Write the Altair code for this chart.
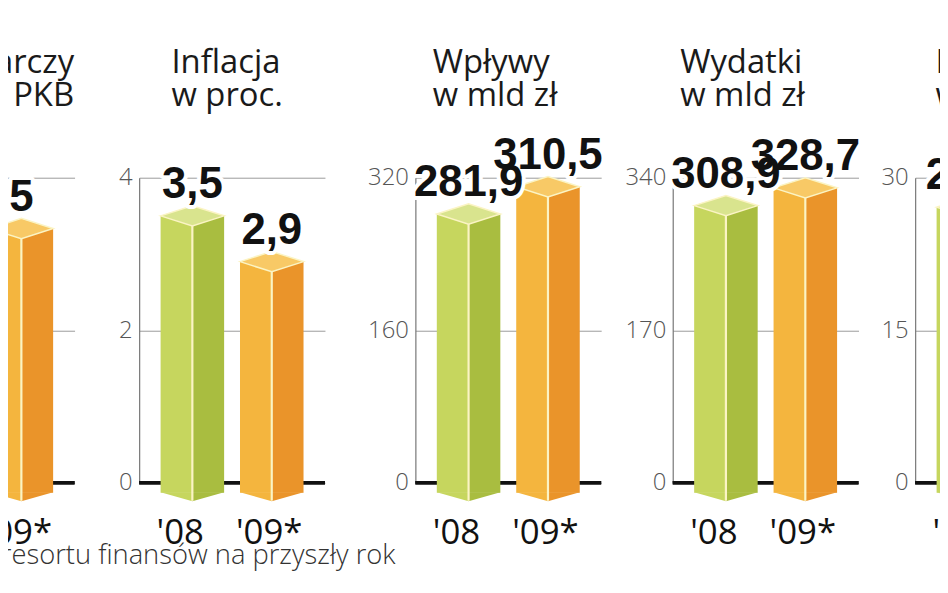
import altair as alt
import pandas as pd

# ---------------- data ----------------
years = ["'08", "'09*"]
titles = [
    ["Wzrost gospodarczy", "w proc. PKB"],
    ["Inflacja", "w proc."],
    ["Wpływy", "w mld zł"],
    ["Wydatki", "w mld zł"],
    ["Deficyt", "w mld zł"],
]
vals_08 = [5.5, 3.5, 281.9, 308.9, 27.1]
vals_09 = [5.0, 2.9, 310.5, 328.7, 18.2]
axis_max = [6, 4, 320, 340, 30]
footnote = "* prognoza resortu finansów na przyszły rok"

# ---------------- style ----------------
KEYS = ["08L", "08R", "08T", "09L", "09R", "09T"]
COLS = ["#c6d65e", "#a9bd40", "#d9e48e", "#f4b53e", "#ea942a", "#f8c966"]
CREAM = "#fbf4c4"
TOP = "M -1 0 L 0 -0.32 L 1 0 L 0 0.32 Z"
BOT_L = "M -1 0.3 L 0 0.3 L 0 0.58 Z"
BOT_R = "M 0 0.3 L 1 0.3 L 0 0.58 Z"
SIZE = 4096
W, H = 187, 307
RIGHT_EXT = 18
TICK_EXT = [200, 47, 73, 54, 39]
TITLE_X = [186, 32, 17, 7, 20]
TITLE_ALIGN = ["right", "left", "left", "left", "left"]


def fmt(v):
    return str(int(v)) if float(v).is_integer() else f"{v:.1f}".replace(".", ",")


cscale = alt.Scale(domain=KEYS, range=COLS)


def panel(i):
    vmax = axis_max[i]
    vals = [vals_08[i], vals_09[i]]
    pref = ["08", "09"]
    faces = pd.DataFrame(
        [{"yr": y, "face": f, "v": v, "k": p + f, "z0": 0}
         for y, v, p in zip(years, vals, pref) for f in ["L", "R"]]
    )
    tops = pd.DataFrame(
        [{"yr": y, "v": v, "z0": 0, "k": p + "T", "lab": fmt(v)}
         for y, v, p in zip(years, vals, pref)]
    )
    xscale = alt.Scale(domain=years, paddingInner=0.2, paddingOuter=0.27)
    yscale = alt.Scale(domain=[0, vmax], nice=False, zero=True)
    xaxis = alt.Axis(domain=False, ticks=False, grid=False,
                     labelAlign="left", labelOffset=-36,
                     labelPadding=33, labelFont="Open Sans", labelFontSize=35,
                     labelColor="#111111", labelAngle=0,
                     title=".", titleX=W + RIGHT_EXT, titleY=0, titleAlign="right",
                     titleBaseline="top", titleFontSize=1, titleOpacity=0)
    yaxis = alt.Axis(values=[0, vmax // 2, vmax], format="d", grid=True,
                     gridColor="#9a9a9a", gridWidth=1,
                     domainColor="#777777", domainWidth=1.2,
                     tickSize=TICK_EXT[i], tickOpacity=0,
                     labelPadding=7 - TICK_EXT[i],
                     labelFont="Open Sans", labelFontSize=24, labelFontWeight=300,
                     labelColor="#555555", labelBaseline="middle",
                     title=titles[i], titleX=TITLE_X[i], titleY=-106, titleAngle=0,
                     titleAlign=TITLE_ALIGN[i], titleBaseline="alphabetic",
                     titleFont="Open Sans", titleFontSize=33, titleFontWeight="normal",
                     titleColor="#1a1a1a", titleLineHeight=33)
    X = alt.X("yr:N", scale=xscale, axis=xaxis)
    Y = alt.Y("v:Q", scale=yscale, axis=yaxis, stack=None)
    Y0 = alt.Y("z0:Q", scale=yscale, axis=yaxis, stack=None)
    C = alt.Color("k:N", scale=cscale, legend=None)

    base_rule = alt.Chart(tops).mark_rule(color="#111111", strokeWidth=3.5).encode(y=Y0)
    bars = alt.Chart(faces).mark_bar(y2Offset=10).encode(
        x=X,
        xOffset=alt.XOffset("face:N", scale=alt.Scale(domain=["L", "R"], paddingInner=0, paddingOuter=0)),
        y=Y, y2=alt.Y2("z0:Q"), color=C)
    bottom = alt.Chart(faces).mark_point(filled=True, size=SIZE, opacity=1, strokeWidth=0).encode(
        x=X, y=Y0,
        shape=alt.Shape("face:N", scale=alt.Scale(domain=["L", "R"], range=[BOT_L, BOT_R]), legend=None),
        color=C)
    divider = alt.Chart(tops).mark_rule(color=CREAM, strokeWidth=2.2, y2Offset=18).encode(
        x=X, y=Y, y2=alt.Y2("z0:Q"))
    top = alt.Chart(tops).mark_point(shape=TOP, filled=True, size=SIZE, opacity=1,
                                     stroke=CREAM, strokeWidth=1.5).encode(x=X, y=Y, color=C)
    halo = alt.Chart(tops).mark_text(font="Liberation Sans", fontWeight="bold", fontSize=44,
                                     dy=-18, baseline="alphabetic", fill="white",
                                     stroke="white", strokeWidth=8, strokeJoin="round").encode(
        x=X, y=Y, text="lab:N")
    label = alt.Chart(tops).mark_text(font="Liberation Sans", fontWeight="bold", fontSize=44,
                                      dy=-18, baseline="alphabetic", fill="#111111").encode(
        x=X, y=Y, text="lab:N")
    return alt.layer(base_rule, bars, bottom, divider, top, halo, label).properties(width=W, height=H)


chart = alt.hconcat(*[panel(i) for i in range(5)], spacing=0).properties(
    padding={"left": -320, "right": -180, "top": 37, "bottom": -1},
    title=alt.TitleParams(text=footnote, orient="bottom", anchor="start", align="right",
                          dx=710, offset=-8, font="Open Sans", fontSize=27.5, fontWeight=300,
                          color="#333333"),
).configure_view(strokeWidth=0)

chart.save("out.html", embed_options={"renderer": "svg", "actions": False})
